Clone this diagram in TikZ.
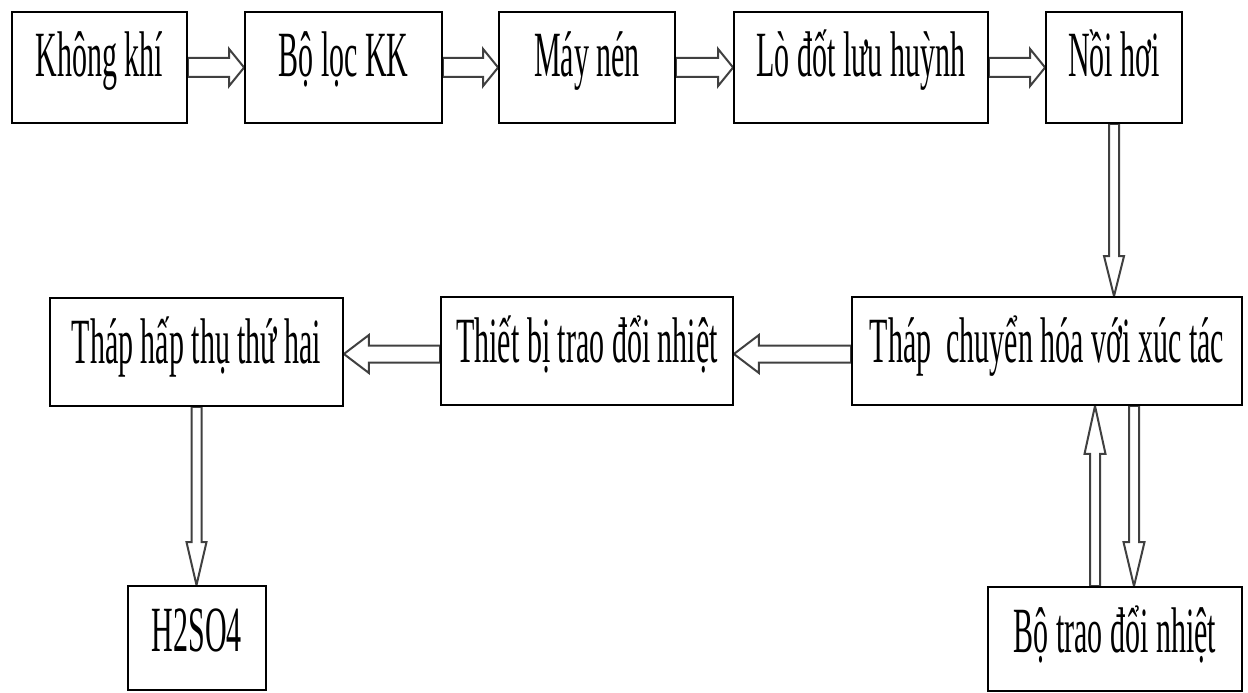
\documentclass[tikz,border=0pt]{standalone}
\usepackage{fontspec}
\setmainfont{Liberation Serif}
\usepackage{graphicx}
\usetikzlibrary{calc}
\pgfdeclarelayer{back}
\pgfsetlayers{back,main}

% tall, narrow lettering used in every box
\newcommand\tall[1]{\scalebox{1}[2.15]{#1}}

\begin{document}
\begin{tikzpicture}[x=1pt,y=-1pt,
  box/.style={draw=black, line width=1.8pt, fill=white, inner xsep=0pt, inner ysep=0pt,
    font=\fontsize{30}{36}\selectfont},
  rowtop/.style={text height=65pt, text depth=46pt},
  rowmid/.style={text height=65pt, text depth=43pt},
  rowlow/.style={text height=65pt, text depth=39pt},
  % outlined block arrow: shaft half-width, head half-width, head length
  blk/.style n args={3}{draw=black!75, line width=2pt, fill=white, line join=miter,
    to path={
      let \p1=(\tikztostart), \p2=(\tikztotarget),
          \n1={veclen(\x2-\x1,\y2-\y1)},
          \n2={(\x2-\x1)/\n1}, \n3={(\y2-\y1)/\n1}
      in
      ({\x1-#1*(\n3)},{\y1+#1*(\n2)})
      -- ({\x2-#3*(\n2)-#1*(\n3)},{\y2-#3*(\n3)+#1*(\n2)})
      -- ({\x2-#3*(\n2)-#2*(\n3)},{\y2-#3*(\n3)+#2*(\n2)})
      -- (\x2,\y2)
      -- ({\x2-#3*(\n2)+#2*(\n3)},{\y2-#3*(\n3)-#2*(\n2)})
      -- ({\x2-#3*(\n2)+#1*(\n3)},{\y2-#3*(\n3)-#1*(\n2)})
      -- ({\x1+#1*(\n3)},{\y1-#1*(\n2)})
      -- cycle}},
  harrow/.style={blk={9.5}{18.5}{15}},
  larrow/.style={blk={8.5}{19}{25}}
]
\useasboundingbox (0,0) rectangle (1248,693);

% top row
\node[box,rowtop,minimum width=175pt] (kk)  at (99.5,67.5) {\tall{Không khí}\hspace{20pt}};
\node[box,rowtop,minimum width=197pt] (loc) at (343.5,67.5) {\tall{Bộ lọc KK}};
\node[box,rowtop,minimum width=176pt] (may) at (587,67.5) {\tall{Máy nén}};
\node[box,rowtop,minimum width=254pt] (lo)  at (861,67.5) {\tall{Lò đốt lưu huỳnh}};
\node[box,rowtop,minimum width=136pt] (noi) at (1114,67.5) {\tall{Nồi hơi}\hspace{8pt}};

% middle row
\node[box,rowmid,minimum width=390pt] (chuyen) at (1047,351) {\tall{Tháp\ \ chuyển hóa với xúc tác}};
\node[box,rowmid,minimum width=292pt] (thiet)  at (587,351) {\tall{Thiết bị trao đổi nhiệt}};
\node[box,rowmid,minimum width=293pt] (hapthu) at (196.5,352) {\tall{Tháp hấp thụ thứ hai}\hspace{9pt}};

% bottom row
\node[box,rowlow,minimum width=138pt] (acid)  at (197,638) {\tall{H2SO4}\hspace{16pt}};
\node[box,rowlow,minimum width=254pt] (trao)  at (1115,639) {\tall{Bộ trao đổi nhiệt}\hspace{17pt}};

\coordinate (upS) at ([xshift=-20pt]trao.north);
\coordinate (upT) at (upS |- chuyen.south);
\coordinate (dnT) at ([xshift=19pt]trao.north);
\coordinate (dnS) at (dnT |- chuyen.south);

\begin{pgfonlayer}{back}
\draw[harrow] (kk.east) to (loc.west);
\draw[harrow] (loc.east) to (may.west);
\draw[harrow] (may.east) to (lo.west);
\draw[harrow] (lo.east) to (noi.west);
\draw[blk={5}{10}{40}] (noi.south) to (noi.south |- chuyen.north);
\draw[larrow] ([yshift=-3pt]chuyen.west) to ([yshift=-3pt]thiet.east);
\draw[larrow] ([yshift=-3pt]thiet.west) to ([yshift=-2pt]hapthu.east);
\draw[blk={5}{10}{43}] (hapthu.south) to (hapthu.south |- acid.north);
\draw[blk={5}{10.5}{48}] (upS) to (upT);
\draw[blk={5}{10.5}{44}] (dnS) to (dnT);
\end{pgfonlayer}
\end{tikzpicture}
\end{document}
